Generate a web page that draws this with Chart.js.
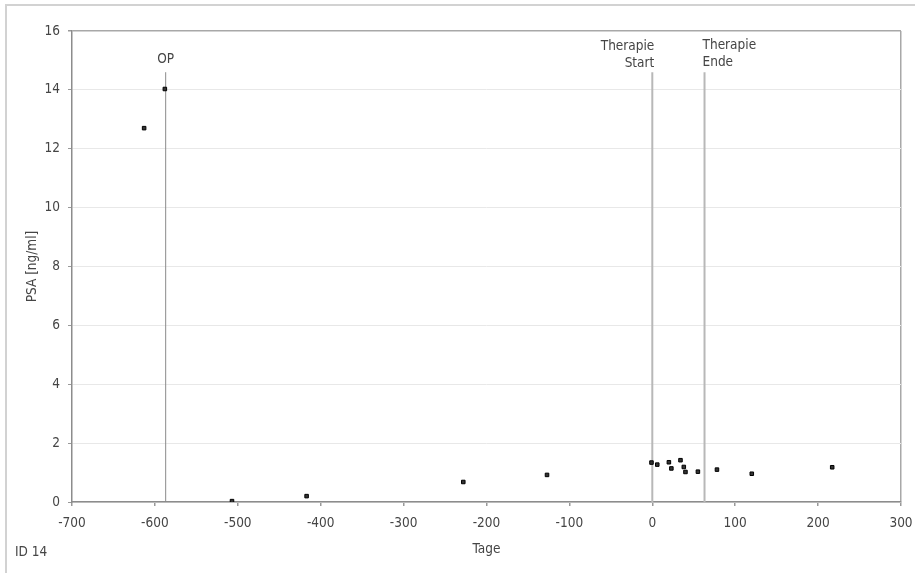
<!DOCTYPE html>
<html>
<head>
<meta charset="utf-8">
<script src="https://cdn.jsdelivr.net/npm/chart.js@4.4.1/dist/chart.umd.min.js"></script>
<style>
    html, body { margin: 0; padding: 0; background: #fff; overflow: hidden; }
    #wrap { position: relative; width: 915px; height: 573px; overflow: hidden; }
    #frame {
        position: absolute; left: 5px; top: 4px; width: 1000px; height: 1000px;
        border-top: 2px solid #d2d2d2; border-left: 2px solid #d2d2d2;
    }
    canvas { position: absolute; left: 0; top: 0; }
</style>
</head>
<body>
<div id="wrap">
    <div id="frame"></div>
    <canvas id="psaChart" width="915" height="573"></canvas>
</div>
<script>
// PSA-Verlauf, Tage relativ zum Therapiestart
const days = [-613, -588, -507, -417, -228, -127, -1, 6, 20, 23, 34, 38, 40, 55, 78, 120, 217];
const psa = [12.70, 14.03, 0.03, 0.20, 0.68, 0.92, 1.34, 1.27, 1.35, 1.14, 1.42, 1.19, 1.02, 1.03, 1.10, 0.96, 1.18];

// Ereignisse (senkrechte Linien)
const eventDays = [-587, 0, 63];
const eventLabels = [['OP'], ['Therapie', 'Start'], ['Therapie', 'Ende']];
const eventLineTop = 14.6;

// Achsen
const xTicks = [-700, -600, -500, -400, -300, -200, -100, 0, 100, 200, 300];
const yTicks = [0, 2, 4, 6, 8, 10, 12, 14, 16];

const fontFamily = "'DejaVu Sans Condensed', 'Open Sans', sans-serif";
const textColor = '#454545';

Chart.defaults.font.family = fontFamily;
Chart.defaults.font.size = 13.5;
Chart.defaults.color = textColor;

const eventAlign = ['center', 'right', 'left'];
const eventShift = [0, 2, -2];
const eventGap = [6, 2, 3];

// Beschriftung der Ereignislinien
const eventLabelPlugin = {
    id: 'eventLabels',
    afterDatasetsDraw(chart) {
        const ctx = chart.ctx;
        const xs = chart.scales.x;
        const ys = chart.scales.y;
        const topPx = ys.getPixelForValue(eventLineTop);
        ctx.save();
        ctx.font = '13.5px ' + fontFamily;
        ctx.fillStyle = textColor;
        ctx.textBaseline = 'bottom';
        eventDays.forEach((d, i) => {
            const x = xs.getPixelForValue(d) + eventShift[i];
            const lines = eventLabels[i];
            ctx.textAlign = eventAlign[i];
            lines.forEach((t, j) => {
                const y = topPx - eventGap[i] - (lines.length - 1 - j) * 17;
                ctx.fillText(t, x, y);
            });
        });
        ctx.restore();
    }
};

const eventDatasets = eventDays.map((d, i) => ({
    label: eventLabels[i].join(' '),
    data: [{x: d, y: 0}, {x: d, y: eventLineTop}],
    showLine: true,
    borderColor: i === 0 ? '#8a8a8a' : '#b8b8b8',
    borderWidth: i === 0 ? 1 : 2,
    pointRadius: 0,
    order: 1
}));

const ctx = document.getElementById('psaChart').getContext('2d');
new Chart(ctx, {
    type: 'scatter',
    data: {
        datasets: [{
            label: 'PSA',
            data: days.map((d, i) => ({x: d, y: psa[i]})),
            pointStyle: 'rect',
            pointRadius: 2.5,
            backgroundColor: '#333',
            borderColor: '#000',
            borderWidth: 1,
            order: 0
        }, ...eventDatasets]
    },
    options: {
        responsive: false,
        animation: false,
        events: [],
        layout: {
            padding: {top: 31, right: 14, bottom: 0, left: 0}
        },
        plugins: {
            legend: {display: false},
            tooltip: {enabled: false}
        },
        scales: {
            x: {
                type: 'linear',
                min: xTicks[0],
                max: xTicks[xTicks.length - 1],
                afterBuildTicks: s => { s.ticks = xTicks.map(v => ({value: v})); },
                afterFit: s => {
                    s.height = 71;
                    s.paddingLeft = 0;
                    s.paddingRight = 0;
                },
                grid: {
                    drawOnChartArea: true,
                    color: c => (c.tick && c.tick.value === 300) ? '#a8a8a8' : 'transparent',
                    lineWidth: 1.5,
                    tickColor: '#999',
                    tickLength: 4
                },
                border: {color: '#8c8c8c', width: 1.5},
                ticks: {padding: 9, color: textColor},
                title: {
                    display: true,
                    text: 'Tage',
                    color: textColor,
                    font: {size: 13.5},
                    padding: {top: 0, bottom: 15}
                }
            },
            y: {
                type: 'linear',
                min: yTicks[0],
                max: yTicks[yTicks.length - 1],
                afterBuildTicks: s => { s.ticks = yTicks.map(v => ({value: v})); },
                afterFit: s => {
                    s.width = 72;
                    s.paddingTop = 0;
                    s.paddingBottom = 0;
                },
                grid: {
                    color: c => (c.tick && c.tick.value === 16) ? '#a8a8a8' : '#e8e8e8',
                    lineWidth: c => (c.tick && c.tick.value === 16) ? 1.5 : 1,
                    tickColor: '#999',
                    tickLength: 4
                },
                border: {color: '#8c8c8c', width: 1.5},
                ticks: {padding: 8, color: textColor},
                title: {
                    display: true,
                    text: 'PSA [ng/ml]',
                    color: textColor,
                    font: {size: 13.5},
                    padding: {top: 24, bottom: 0}
                }
            }
        }
    },
    plugins: [eventLabelPlugin, {
        id: 'idLabel',
        afterDraw(chart) {
            const c = chart.ctx;
            c.save();
            c.font = '13.5px ' + fontFamily;
            c.fillStyle = textColor;
            c.textAlign = 'left';
            c.textBaseline = 'middle';
            c.fillText('ID 14', 15, 552);
            c.restore();
        }
    }]
});
</script>
</body>
</html>
